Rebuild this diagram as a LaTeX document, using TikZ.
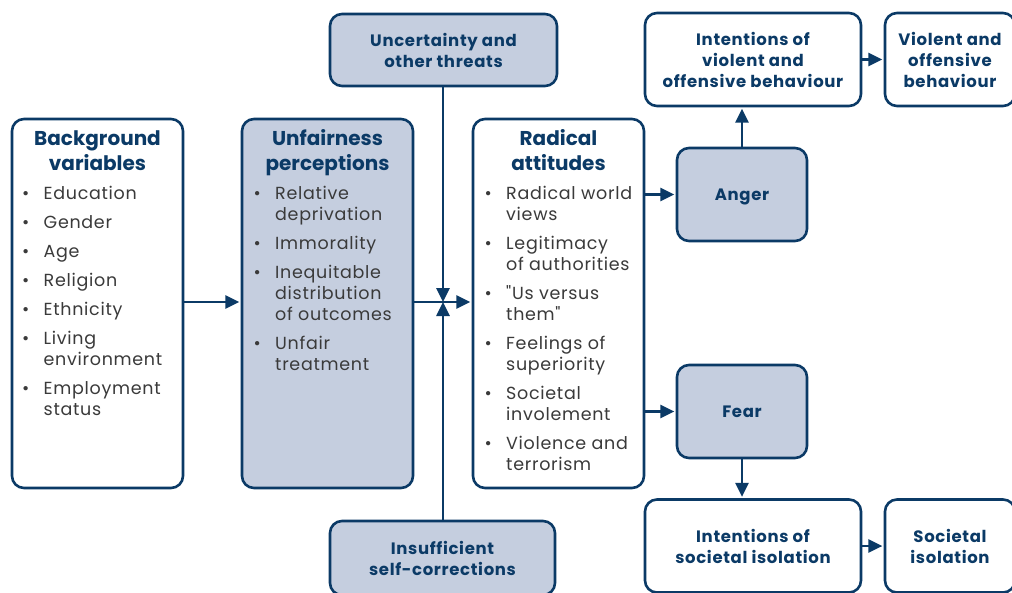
\documentclass[tikz,border=0pt]{standalone}
\usepackage{fontspec}
\setmainfont{Poppins}
\newfontfamily\boxfont{Poppins}[LetterSpace=4,WordSpace=2]
\newfontfamily\itemfont{Poppins}[LetterSpace=4]
\usetikzlibrary{arrows.meta}
\definecolor{navy}{HTML}{0B3A66}
\definecolor{pale}{HTML}{C5CEDF}
\definecolor{txt}{HTML}{3A3A3A}
\newcommand\vhead[2]{\vtop{\hsize=#1\parindent=0pt\centering #2}}
\newcommand\blist[2]{\vtop{\hsize=#1\parindent=0pt\parskip=8pt\raggedright #2}}
\newcommand\bi[1]{\hangindent=21.5pt\hangafter=1\leavevmode\makebox[21.5pt][l]{\textbullet}#1\par}
\tikzset{
  box/.style={draw=navy, line width=2.6pt, rounded corners=12pt, inner sep=0pt, fill=white},
  shaded/.style={box, fill=pale},
  small/.style={font=\boxfont\fontsize{16.5}{21}\selectfont\bfseries, text=navy, align=center},
  head/.style={anchor=base, inner sep=0pt, font=\fontsize{20}{25}\selectfont\bfseries, text=navy},
  items/.style={anchor=base west, inner sep=0pt, font=\itemfont\fontsize{17.5}{21}\selectfont, text=txt},
  arr/.style={draw=navy, line width=2.6pt, -{Triangle[length=14pt,width=13pt]}, shorten >=1.3pt}
}
\begin{document}
\begin{tikzpicture}[x=1pt,y=-1pt]
\useasboundingbox (0,0) rectangle (1012,592);
\clip (0,0) rectangle (1012,592);
% boxes
\node[box, minimum width=171pt, minimum height=369pt] (bg) at (97.5,303.5) {};
\node[shaded, minimum width=171pt, minimum height=369pt] (unf) at (327.5,303.5) {};
\node[box, minimum width=171pt, minimum height=369pt] (rad) at (558.5,303.5) {};
\node[shaded, small, minimum width=227pt, minimum height=72pt] (unc) at (443.5,50) {Uncertainty and\\other threats};
\node[shaded, small, minimum width=225pt, minimum height=74pt] (ins) at (442.5,558) {Insufficient\\self-corrections};
\node[shaded, small, minimum width=130pt, minimum height=93pt, text depth=0pt] (anger) at (742,194.5) {Anger};
\node[shaded, small, minimum width=130pt, minimum height=93pt, text depth=0pt] (fear) at (742,411.5) {Fear};
\node[box, small, minimum width=216pt, minimum height=93pt] (intv) at (753,59.5) {Intentions of\\violent and\\offensive behaviour};
\node[box, small, minimum width=130pt, minimum height=93pt] (viol) at (950,59.5) {Violent and\\offensive\\behaviour};
\node[box, small, minimum width=216pt, minimum height=93pt] (intiso) at (753,546) {Intentions of\\societal isolation};
\node[box, small, minimum width=130pt, minimum height=93pt] (soc) at (950,546) {Societal\\isolation};
% headings
\node[head] (bgh) at (97.5,145) {\vhead{165pt}{Background\\variables}};
\node[head] (unfh) at (327.5,145) {\vhead{165pt}{Unfairness\\perceptions}};
\node[head] (radh) at (558.5,145) {\vhead{165pt}{Radical\\attitudes}};
% lists
\node[items] (bgl) at (22,199) {\blist{158pt}{\bi{Education}\bi{Gender}\bi{Age}\bi{Religion}\bi{Ethnicity}\bi{Living\newline environment}\bi{Employment\newline status}}};
\node[items] (unfl) at (253.5,199) {\blist{158pt}{\bi{Relative\newline deprivation}\bi{Immorality}\bi{Inequitable\newline distribution\newline of outcomes}\bi{Unfair\newline treatment}}};
\node[items] (radl) at (484.5,199) {\blist{158pt}{\bi{Radical world\newline views}\bi{Legitimacy\newline of authorities}\bi{"Us versus\newline them"}\bi{Feelings of\newline superiority}\bi{Societal\newline involement}\bi{Violence and\newline terrorism}}};
% connectors
\coordinate (j) at (443,302);
\draw[arr] (bg.east |- j) -- (unf.west |- j);
\draw[arr] (unf.east |- j) -- (rad.west |- j);
\draw[arr, shorten >=0pt] (j |- unc.south) -- (j);
\draw[arr, shorten >=0pt] (j |- ins.north) -- (j);
\draw[arr] (rad.east |- anger.west) -- (anger.west);
\draw[arr] (rad.east |- fear.west) -- (fear.west);
\draw[arr] (anger.north) -- (anger.north |- intv.south);
\draw[arr] (fear.south) -- (fear.south |- intiso.north);
\draw[arr] (intv.east) -- (viol.west);
\draw[arr] (intiso.east) -- (soc.west);
\end{tikzpicture}
\end{document}
